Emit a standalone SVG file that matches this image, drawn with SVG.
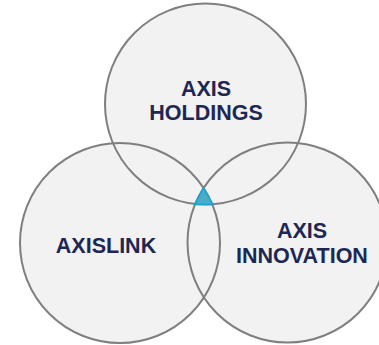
<svg xmlns="http://www.w3.org/2000/svg" width="379" height="345" viewBox="0 0 379 345">
<style>
.fill{fill:#F2F2F2;stroke:none}
.ring{fill:none;stroke:#7F7F7F;stroke-width:2}
.lbl{font-family:"Liberation Sans",Arial,sans-serif;font-weight:bold;font-size:21.5px;fill:#1D2753;text-anchor:middle}
.core{fill:#4AAAC8;stroke:#17A2D2;stroke-width:1.5;stroke-linejoin:round}
</style>
<rect width="379" height="345" fill="#FFFFFF"/>
<g id="fills">
<circle class="fill" cx="205.5" cy="104" r="100.5"/>
<circle class="fill" cx="120" cy="243" r="100"/>
<circle class="fill" cx="287.5" cy="242.5" r="100"/>
</g>
<g id="node-holdings">
<circle class="ring" cx="205.5" cy="104" r="100.5"/>
<text class="lbl" x="206" y="96">AXIS</text>
<text class="lbl" x="206" y="120">HOLDINGS</text>
</g>
<g id="node-axislink">
<circle class="ring" cx="120" cy="243" r="100"/>
<text class="lbl" x="106" y="253">AXISLINK</text>
</g>
<g id="node-innovation">
<circle class="ring" cx="287.5" cy="242.5" r="100"/>
<text class="lbl" x="302" y="238">AXIS</text>
<text class="lbl" x="302" y="263">INNOVATION</text>
</g>
<g id="connectors"></g>
<g id="center">
<polygon class="core" points="203.5,187.5 194.5,204.5 213,204.5"/>
</g>
</svg>
